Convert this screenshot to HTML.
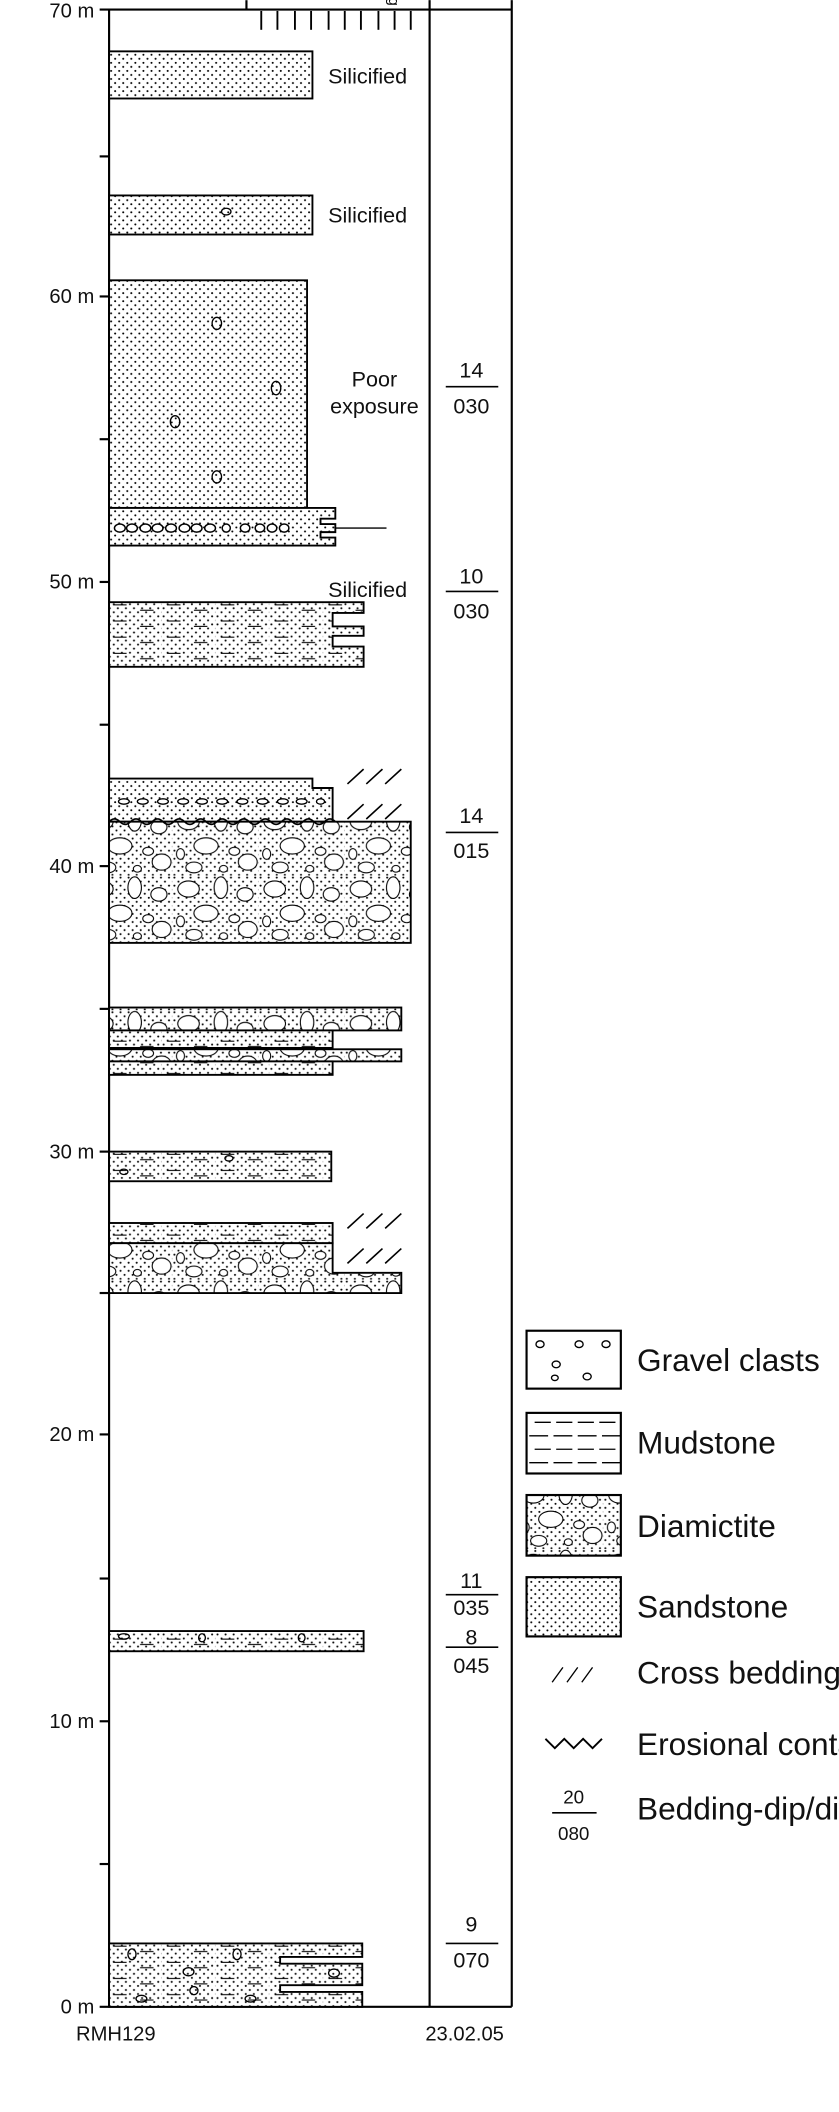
<!DOCTYPE html>
<html><head><meta charset="utf-8"><style>html,body{margin:0;padding:0;background:#fff}svg{display:block}</style></head><body>
<svg width="839" height="2112" viewBox="0 0 623 1568" xmlns="http://www.w3.org/2000/svg" font-family="Liberation Sans, Arial, sans-serif">
<defs>
<pattern id="sand" width="6" height="6" patternUnits="userSpaceOnUse"><rect width="6" height="6" fill="#fff"/><circle cx="1.5" cy="1.5" r="0.75" fill="#000"/><circle cx="4.5" cy="4.5" r="0.75" fill="#000"/></pattern>
<pattern id="diam" width="64" height="50" patternUnits="userSpaceOnUse"><rect width="64" height="50" fill="url(#sand)"/>
<g fill="#fff" stroke="#000" stroke-width="0.8"><ellipse cx="12" cy="10" rx="8" ry="6"/><ellipse cx="36" cy="9" rx="5" ry="8"/><ellipse cx="54" cy="14" rx="6" ry="5"/><ellipse cx="25" cy="28" rx="9" ry="6"/><ellipse cx="6" cy="34" rx="3" ry="4"/><ellipse cx="46" cy="32" rx="4" ry="3"/><ellipse cx="56" cy="40" rx="7" ry="6"/><ellipse cx="16" cy="44" rx="6" ry="4"/><ellipse cx="38" cy="45" rx="3" ry="2.5"/></g></pattern>
<pattern id="mud" width="40" height="12" patternUnits="userSpaceOnUse"><rect width="40" height="12" fill="url(#sand)"/><g stroke="#000" stroke-width="0.8"><line x1="4" y1="5" x2="14" y2="5"/><line x1="24" y1="9" x2="34" y2="9"/></g></pattern>
</defs>
<g stroke="#000" stroke-width="1.6" fill="none">
<line x1="81" y1="7" x2="81" y2="1490"/>
<line x1="319" y1="0" x2="319" y2="1490"/>
<line x1="380" y1="0" x2="380" y2="1490"/>
<line x1="74" y1="7" x2="380" y2="7"/>
<line x1="74" y1="1490" x2="380" y2="1490"/>
<line x1="183" y1="0" x2="183" y2="7"/>
<g stroke-width="1.4"><line x1="194" y1="8" x2="194" y2="22"/><line x1="206" y1="8" x2="206" y2="22"/><line x1="219" y1="8" x2="219" y2="22"/><line x1="231" y1="8" x2="231" y2="22"/><line x1="244" y1="8" x2="244" y2="22"/><line x1="256" y1="8" x2="256" y2="22"/><line x1="268" y1="8" x2="268" y2="22"/><line x1="281" y1="8" x2="281" y2="22"/><line x1="293" y1="8" x2="293" y2="22"/><line x1="305" y1="8" x2="305" y2="22"/></g>
<line x1="74" y1="116" x2="81" y2="116"/><line x1="74" y1="220" x2="81" y2="220"/><line x1="74" y1="326" x2="81" y2="326"/><line x1="74" y1="432" x2="81" y2="432"/><line x1="74" y1="538" x2="81" y2="538"/><line x1="74" y1="643" x2="81" y2="643"/><line x1="74" y1="749" x2="81" y2="749"/><line x1="74" y1="855" x2="81" y2="855"/><line x1="74" y1="960" x2="81" y2="960"/><line x1="74" y1="1065" x2="81" y2="1065"/><line x1="74" y1="1172" x2="81" y2="1172"/><line x1="74" y1="1278" x2="81" y2="1278"/><line x1="74" y1="1384" x2="81" y2="1384"/>
</g>
<text x="0" y="0" font-size="11" fill="#000" transform="translate(289 -2) rotate(90)">g</text>
<g font-size="15" text-anchor="end" fill="#111"><text x="70" y="13">70 m</text><text x="70" y="225">60 m</text><text x="70" y="437">50 m</text><text x="70" y="648">40 m</text><text x="70" y="860">30 m</text><text x="70" y="1070">20 m</text><text x="70" y="1283">10 m</text><text x="70" y="1495">0 m</text></g>
<g font-size="15" fill="#111" text-anchor="middle"><text x="86" y="1515">RMH129</text><text x="345" y="1515">23.02.05</text></g>
<g stroke="#000" stroke-width="1.4">
<rect x="81" y="38" width="151" height="35" fill="url(#sand)"/>
<rect x="81" y="145" width="151" height="29" fill="url(#sand)"/>
<rect x="81" y="208" width="147" height="169" fill="url(#sand)"/>
<path d="M81 377H249V385H238V389H249V395H238V399H249V405H81Z" fill="url(#sand)"/>
<path d="M81 447H270V455H247V465H270V472H247V480H270V495H81Z" fill="url(#mud)"/>
<path d="M81 578H232V585H247V610H81Z" fill="url(#sand)"/>
<rect x="81" y="610" width="224" height="90" fill="url(#diam)"/>
<rect x="81" y="748" width="217" height="17" fill="url(#diam)"/>
<rect x="81" y="765" width="166" height="13" fill="url(#mud)"/>
<rect x="81" y="779" width="217" height="9" fill="url(#diam)"/>
<rect x="81" y="788" width="166" height="10" fill="url(#mud)"/>
<rect x="81" y="855" width="165" height="22" fill="url(#mud)"/>
<rect x="81" y="908" width="166" height="15" fill="url(#mud)"/>
<path d="M81 923H247V945H298V960H81Z" fill="url(#diam)"/>
<rect x="81" y="1211" width="189" height="15" fill="url(#mud)"/>
<path d="M81 1443H269V1453H208V1458H269V1474H208V1479H269V1490H81Z" fill="url(#mud)"/>
</g>
<g fill="none" stroke="#000" stroke-width="1">
<line x1="249" y1="392" x2="287" y2="392"/>
<g fill="#fff" stroke-width="1.1"><ellipse cx="89" cy="392" rx="4" ry="3"/><ellipse cx="98" cy="392" rx="4" ry="3"/><ellipse cx="108" cy="392" rx="4" ry="3"/><ellipse cx="117" cy="392" rx="4" ry="3"/><ellipse cx="127" cy="392" rx="4" ry="3"/><ellipse cx="137" cy="392" rx="4" ry="3"/><ellipse cx="146" cy="392" rx="4" ry="3"/><ellipse cx="156" cy="392" rx="4" ry="3"/><ellipse cx="168" cy="392" rx="3" ry="3"/><ellipse cx="182" cy="392" rx="3.5" ry="3"/><ellipse cx="193" cy="392" rx="3.5" ry="3"/><ellipse cx="202" cy="392" rx="3.5" ry="3"/><ellipse cx="211" cy="392" rx="3.5" ry="3"/></g>
<g fill="#fff" stroke-width="1"><ellipse cx="92" cy="595" rx="4" ry="2"/><ellipse cx="106" cy="595" rx="4" ry="2"/><ellipse cx="121" cy="595" rx="4" ry="2"/><ellipse cx="136" cy="595" rx="4" ry="2"/><ellipse cx="150" cy="595" rx="4" ry="2"/><ellipse cx="165" cy="595" rx="4" ry="2"/><ellipse cx="180" cy="595" rx="4" ry="2"/><ellipse cx="195" cy="595" rx="4" ry="2"/><ellipse cx="210" cy="595" rx="4" ry="2"/><ellipse cx="224" cy="595" rx="4" ry="2"/><ellipse cx="238" cy="595" rx="3" ry="2"/></g>
<path d="M81 610q4-4 8 0t8 0t8 0t8 0t8 0t8 0t8 0t8 0t8 0t8 0t8 0t8 0t8 0t8 0t8 0t8 0t8 0t8 0t8 0t8 0t8 0" stroke-width="1.2"/>
<ellipse cx="168" cy="157" rx="3.5" ry="2.5"/><ellipse cx="161" cy="240" rx="3.5" ry="4.5"/><ellipse cx="205" cy="288" rx="3.5" ry="5"/><ellipse cx="130" cy="313" rx="3.5" ry="4.5"/><ellipse cx="161" cy="354" rx="3.5" ry="4.5"/>
<ellipse cx="170" cy="860" rx="3" ry="2"/><ellipse cx="92" cy="870" rx="3" ry="2"/>
<ellipse cx="92" cy="1215" rx="4" ry="2"/><ellipse cx="150" cy="1216" rx="2.5" ry="3"/><ellipse cx="224" cy="1216" rx="2.5" ry="3"/>
<ellipse cx="98" cy="1451" rx="3" ry="4"/><ellipse cx="176" cy="1451" rx="3" ry="4"/><ellipse cx="140" cy="1464" rx="4" ry="3"/><ellipse cx="248" cy="1465" rx="4" ry="3"/><ellipse cx="144" cy="1478" rx="3" ry="3"/><ellipse cx="105" cy="1484" rx="4" ry="2.5"/><ellipse cx="186" cy="1484" rx="4" ry="2.5"/>
<g stroke-width="1.2"><path d="M258 582l12-11M272 582l12-11M286 582l12-11M258 608l12-11M272 608l12-11M286 608l12-11M258 912l12-11M272 912l12-11M286 912l12-11M258 938l12-11M272 938l12-11M286 938l12-11"/></g>
</g>
<g font-size="16" fill="#111" text-anchor="middle">
<text x="273" y="62">Silicified</text><text x="273" y="165">Silicified</text>
<text x="278" y="287">Poor</text><text x="278" y="307">exposure</text>
<text x="273" y="443">Silicified</text>
<text x="350" y="280">14</text><text x="350" y="307">030</text>
<text x="350" y="433">10</text><text x="350" y="459">030</text>
<text x="350" y="611">14</text><text x="350" y="637">015</text>
<text x="350" y="1179">11</text><text x="350" y="1199">035</text>
<text x="350" y="1221">8</text><text x="350" y="1242">045</text>
<text x="350" y="1434">9</text><text x="350" y="1461">070</text>
</g>
<g stroke="#000" stroke-width="1.2"><line x1="331" y1="287" x2="370" y2="287"/><line x1="331" y1="439" x2="370" y2="439"/><line x1="331" y1="618" x2="370" y2="618"/><line x1="331" y1="1184" x2="370" y2="1184"/><line x1="331" y1="1223" x2="370" y2="1223"/><line x1="331" y1="1443" x2="370" y2="1443"/></g>
<g stroke="#000" stroke-width="1.6">
<rect x="391" y="988" width="70" height="43" fill="#fff"/>
<rect x="391" y="1049" width="70" height="45" fill="#fff"/>
<rect x="391" y="1110" width="70" height="45" fill="url(#diam)"/>
<rect x="391" y="1171" width="70" height="44" fill="url(#sand)"/>
</g>
<g fill="none" stroke="#000" stroke-width="1">
<ellipse cx="401" cy="998" rx="3" ry="2.5"/><ellipse cx="430" cy="998" rx="3" ry="2.5"/><ellipse cx="450" cy="998" rx="3" ry="2.5"/><ellipse cx="413" cy="1013" rx="3" ry="2.5"/><ellipse cx="436" cy="1022" rx="3" ry="2.5"/><ellipse cx="412" cy="1023" rx="2.5" ry="2"/>
<path d="M397 1056h12M413 1056h12M429 1056h12M445 1056h12M393 1066h14M411 1066h14M429 1066h14M447 1066h14M397 1076h12M413 1076h12M429 1076h12M445 1076h12M393 1086h14M411 1086h14M429 1086h14M447 1086h14"/>
<path d="M410 1249l8-11M421 1249l8-11M432 1249l8-11" stroke-width="1"/>
<path d="M405 1291l7 7l7-7l7 7l7-7l7 7l7-7" stroke-width="1.4"/>
<line x1="410" y1="1346" x2="443" y2="1346" stroke-width="1.2"/>
</g>
<g font-size="14" fill="#111" text-anchor="middle"><text x="426" y="1339">20</text><text x="426" y="1366">080</text></g>
<g font-size="23.5" fill="#111"><text x="473" y="1018">Gravel clasts</text><text x="473" y="1079">Mudstone</text><text x="473" y="1141">Diamictite</text><text x="473" y="1201">Sandstone</text><text x="473" y="1250">Cross bedding</text><text x="473" y="1303">Erosional contact</text><text x="473" y="1351">Bedding-dip/direction</text></g>
</svg>
</body></html>
